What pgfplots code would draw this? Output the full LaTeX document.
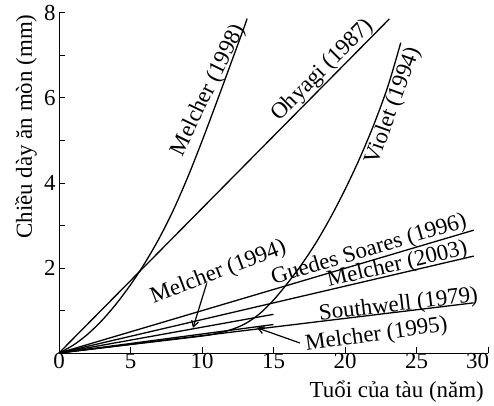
\documentclass[border=0pt]{standalone}
\usepackage{fontspec}
\setmainfont{Liberation Serif}
\usepackage{pgfplots}
\pgfplotsset{compat=1.18}
\usetikzlibrary{arrows.meta}
\tikzset{lbl/.style={inner sep=0pt}}
\begin{document}
\begin{tikzpicture}[font=\fontsize{23}{27}\selectfont]
\begin{axis}[
  scale only axis, width=429bp, height=340bp,
  xmin=0, xmax=30, ymin=0, ymax=8,
  axis x line*=bottom, axis y line*=left,
  axis line style={line width=1bp, -},
  tick align=inside,
  xtick={0,5,...,30}, xticklabels={0,5,10,15,20,25,{\makebox[0pt][r]{30}\hspace*{-2bp}}},
  ytick={2,4,6,8}, yticklabels={2,4,6,8}, minor ytick={1,3,5,7},
  major tick length=6bp, minor tick length=6bp,
  tick style={line width=1bp, black},
  ticklabel style={font=\fontsize{23}{27}\selectfont},
  xticklabel style={yshift=3bp},
  clip=false,
  every axis plot/.append style={line width=1.3bp, black, no markers},
]
% Melcher (1998)
\addplot[smooth] coordinates {(0,0) (1,0.185) (2,0.44) (3,0.765) (4,1.155) (5,1.605) (6,2.115) (7,2.695) (8,3.365) (9,4.135) (10,4.985) (11,5.88) (12,6.795) (13,7.715) (13.15,7.87)};
% Ohyagi (1987)
\addplot[] coordinates {(0,0) (23.1,7.86)};
% Violet (1994)
\addplot[smooth] coordinates {(0,0) (5,0.2) (10,0.4) (11,0.46) (12,0.545) (13,0.685) (14,0.915) (15,1.245) (16,1.65) (17,2.10) (18,2.61) (19,3.195) (20,3.845) (21,4.56) (22,5.36) (23,6.275) (23.9,7.3)};
% Guedes Soares (1996)
\addplot[] coordinates {(0,0) (29,2.89)};
% Melcher (2003)
\addplot[] coordinates {(0,0) (29,2.28)};
% Melcher (1994)
\addplot[] coordinates {(0,0) (15,0.91)};
% Southwell (1979)
\addplot[] coordinates {(0,0) (29,1.18)};
% Melcher (1995)
\addplot[] coordinates {(0,0) (15,0.67)};

\node[lbl, anchor=south, rotate=64, yshift=1bp] at (axis cs:11.2,6.06) {Melcher (1998)};
\node[lbl, anchor=south, rotate=45, yshift=0.5bp] at (axis cs:19.0,6.465) {Ohyagi (1987)};
\node[lbl, anchor=north, rotate=70] at (axis cs:22.7,5.9) {Violet (1994)};
\node[lbl, anchor=south, rotate=16.5] at (axis cs:21.9,2.18) {Guedes Soares (1996)};
\node[lbl, anchor=south, rotate=13.2, yshift=-2bp] at (axis cs:23.8,1.87) {Melcher (2003)};
\node[lbl, anchor=base, rotate=6.9, yshift=1bp] at (axis cs:23.8,0.968) {Southwell (1979)};
\node[lbl, anchor=center, rotate=21] at (axis cs:11.15,1.89) {Melcher (1994)};
\node[lbl, anchor=center, rotate=8] at (axis cs:22.2,0.42) {Melcher (1995)};
\draw[line width=1.2bp, -{Straight Barb[length=6bp,width=7bp]}] (axis cs:10.33,1.64) -- (axis cs:9.37,0.59);
\draw[line width=1.2bp, -{Straight Barb[length=6bp,width=7bp]}] (axis cs:16.85,0.235) -- (axis cs:13.83,0.595);

\node[lbl, anchor=base east] at (axis cs:30,0) [yshift=-44bp, xshift=-4bp] {Tuổi của tàu (năm)};
\node[lbl, anchor=east, rotate=90] at (axis cs:-2.31,7.97) {Chiều dày ăn mòn (mm)};
\end{axis}
\pgfresetboundingbox
\path[use as bounding box] (-59bp,-53bp) rectangle (435bp,353bp);
\end{tikzpicture}
\end{document}
